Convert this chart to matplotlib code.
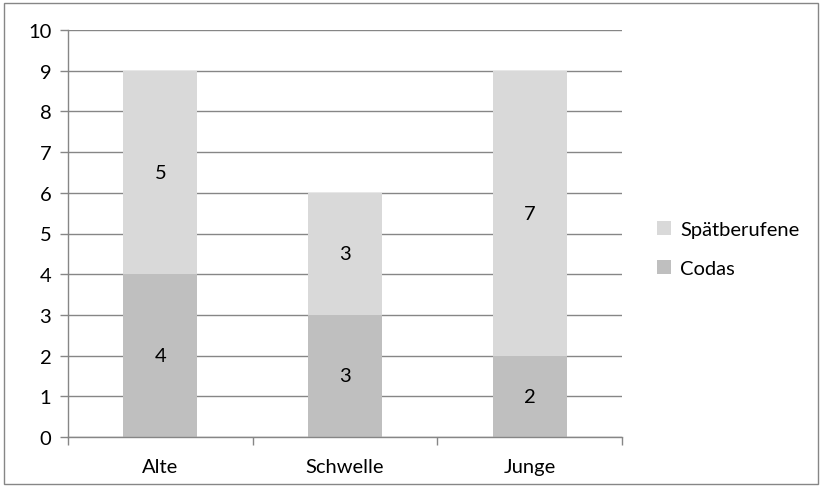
import matplotlib.pyplot as plt
from matplotlib.patches import Rectangle

groups = ["Alte", "Schwelle", "Junge"]
codas = [4, 3, 2]
spaetberufene = [5, 3, 7]

plt.rcParams['font.family'] = ['Lato', 'DejaVu Sans']
fs = 14.5

fig = plt.figure(figsize=(8.22, 4.89), dpi=100)
ax = fig.add_axes([68 / 822, 1 - 438 / 489, 554 / 822, 407 / 489])

c_light = '#d9d9d9'
c_dark = '#bfbfbf'
x = range(len(groups))
b1 = ax.bar(x, codas, 0.4, color=c_dark, label='Codas', zorder=2)
b2 = ax.bar(x, spaetberufene, 0.4, bottom=codas, color=c_light, label='Spätberufene', zorder=2)
ax.bar_label(b1, label_type='center', fontsize=fs)
ax.bar_label(b2, label_type='center', fontsize=fs)

ax.set_xlim(-0.5, 2.5)
ax.set_ylim(0, 10)
ax.set_yticks(range(0, 11))
ax.grid(axis='y', color='#868686', linewidth=1, zorder=0)
ax.set_axisbelow(True)

ax.set_xticks([i for i in x])
ax.set_xticklabels(groups, fontsize=fs)
ax.tick_params(axis='x', length=0, pad=15)
ax.set_xticks([-0.5, 0.5, 1.5, 2.5], minor=True)
ax.tick_params(axis='x', which='minor', length=6, color='#868686', width=1)
ax.tick_params(axis='y', length=6, color='#868686', width=1, labelsize=fs, pad=6)

for s in ['top', 'right']:
    ax.spines[s].set_visible(False)
for s in ['left', 'bottom']:
    ax.spines[s].set_color('#868686')
    ax.spines[s].set_linewidth(1)

handles, labels = ax.get_legend_handles_labels()
ax.legend(handles[::-1], labels[::-1], loc='center left', bbox_to_anchor=(1.03, 0.462),
          frameon=False, fontsize=fs, handlelength=0.7, handleheight=0.7,
          handletextpad=0.45, labelspacing=1.05)

fig.patches.append(Rectangle((4 / 822, 4 / 489), 1 - 8 / 822, 1 - 8 / 489,
                             transform=fig.transFigure, fill=False,
                             edgecolor='#868686', linewidth=1))

fig.savefig('out.png', dpi=100)
